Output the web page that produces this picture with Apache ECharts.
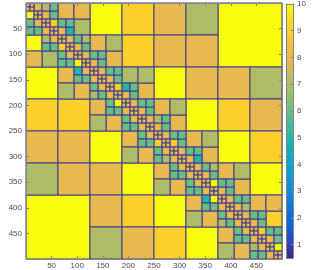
<!DOCTYPE html>
<html>
<head>
<meta charset="utf-8">
<script src="https://cdn.jsdelivr.net/npm/echarts@6/dist/echarts.min.js"></script>
<style>
html,body{margin:0;padding:0;background:#ffffff;}
#chart{width:314px;height:270px;}
</style>
</head>
<body>
<div id="chart"></div>
<script>
// ---------------- data ----------------
const matrixSize = 500;
const axisTickValues = [50, 100, 150, 200, 250, 300, 350, 400, 450];
const colorbarTickValues = [1, 2, 3, 4, 5, 6, 7, 8, 9, 10];
const colorLimits = [0.5, 10];

// level-2 low-rank blocks: [rowCluster, colCluster, rank]
const level2Blocks = [[0, 3, 10], [3, 0, 10]];

// level-3 low-rank blocks: [rowCluster, colCluster, rank]
const level3Blocks = [
  [0, 2, 10], [0, 3, 9], [0, 4, 8], [0, 5, 7], [1, 3, 9], [1, 4, 8], [1, 5, 8],
  [2, 4, 10], [2, 5, 8], [2, 6, 8], [2, 7, 7], [3, 5, 10], [3, 6, 9], [3, 7, 8],
  [4, 6, 10], [4, 7, 9], [5, 7, 10],
  [2, 0, 10], [3, 0, 9], [4, 0, 8], [5, 0, 7], [3, 1, 9], [4, 1, 8], [5, 1, 8],
  [4, 2, 10], [5, 2, 8], [6, 2, 8], [7, 2, 7], [5, 3, 10], [6, 3, 9], [7, 3, 8],
  [6, 4, 10], [7, 4, 9], [7, 5, 10]
];

// level-4 ranks along block diagonals (offset +2, +3 and -2, -3)
const level4Upper2 = [8, 7, 8, 8, 7, 8, 8, 8, 8, 8, 8, 8, 8, 9];
const level4Upper3 = [8, 7, 7, 7, 7, 7, 8];
const level4Lower2 = [10, 7, 8, 8, 8, 8, 8, 8, 8, 8, 8, 8, 8, 8];
const level4Lower3 = [8, 7, 7, 7, 7, 7, 7];

// level-5 ranks along block diagonals (offset +-1, +-2, +-3)
const level5Upper1 = [8, 8, 9, 8, 8, 8, 8, 8, 8, 8, 9, 8, 8, 8, 8, 8, 8, 9, 8, 8, 8, 8, 10, 8, 8, 8, 8, 8, 9, 8, 10];
const level5Lower1 = [10, 8, 8, 8, 9, 8, 10, 8, 8, 8, 8, 10, 8, 8, 8, 8, 9, 8, 8, 8, 8, 8, 8, 10, 8, 8, 8, 8, 8, 8, 8];
const level5Upper2 = [7, 6, 6, 5, 6, 6, 6, 6, 6, 6, 5, 6, 6, 6, 7, 6, 6, 6, 6, 5, 6, 6, 6, 6, 6, 7, 6, 6, 6, 6];
const level5Lower2 = [6, 6, 7, 6, 6, 6, 5, 6, 6, 6, 6, 6, 6, 6, 6, 6, 6, 7, 6, 6, 6, 6, 5, 6, 6, 6, 6, 6, 7, 6];
const level5Upper3 = [6, 6, 7, 6, 6, 6, 6, 6, 6, 6, 7, 6, 6, 6, 6];
const level5Lower3 = [6, 6, 6, 6, 7, 6, 6, 6, 6, 6, 6, 6, 7, 6, 6];

// dense diagonal leaves (level 6): rank of each small dense block
const level6DenseRank = 8;

// parula colour map: [position 0..63, r, g, b]
const parulaStops = [
  [0, 53, 42, 135], [4, 50, 67, 186], [8, 3, 99, 225], [12, 13, 117, 220], [16, 20, 133, 212],
  [20, 9, 152, 209], [24, 6, 167, 198], [28, 21, 177, 180], [32, 56, 185, 158], [36, 101, 190, 134],
  [40, 146, 191, 115], [44, 183, 189, 100], [48, 217, 186, 86], [50, 233, 185, 78], [52, 248, 187, 68],
  [54, 255, 195, 55], [56, 252, 206, 46], [58, 247, 216, 38], [60, 245, 228, 29], [63, 249, 251, 14]
];

// ---------------- build blocks ----------------
const blocks = [];
function span(level, k) {
  const s = matrixSize / Math.pow(2, level);
  return [k * s, (k + 1) * s];
}
function addBlock(level, r, c, v) {
  const rs = span(level, r), cs = span(level, c);
  blocks.push([cs[0], cs[1], rs[0], rs[1], v]);
}
level2Blocks.forEach(b => addBlock(2, b[0], b[1], b[2]));
level3Blocks.forEach(b => addBlock(3, b[0], b[1], b[2]));
level4Upper2.forEach((v, i) => addBlock(4, i, i + 2, v));
level4Lower2.forEach((v, i) => addBlock(4, i + 2, i, v));
level4Upper3.forEach((v, j) => addBlock(4, 2 * j, 2 * j + 3, v));
level4Lower3.forEach((v, j) => addBlock(4, 2 * j + 3, 2 * j, v));
level5Upper1.forEach((v, i) => addBlock(5, i, i + 1, v));
level5Lower1.forEach((v, i) => addBlock(5, i + 1, i, v));
level5Upper2.forEach((v, i) => addBlock(5, i, i + 2, v));
level5Lower2.forEach((v, i) => addBlock(5, i + 2, i, v));
level5Upper3.forEach((v, j) => addBlock(5, 2 * j, 2 * j + 3, v));
level5Lower3.forEach((v, j) => addBlock(5, 2 * j + 3, 2 * j, v));
for (let i = 0; i < 32; i++) {
  addBlock(6, 2 * i, 2 * i, level6DenseRank);
  addBlock(6, 2 * i, 2 * i + 1, level6DenseRank);
  addBlock(6, 2 * i + 1, 2 * i, level6DenseRank);
  addBlock(6, 2 * i + 1, 2 * i + 1, level6DenseRank);
}

function parula(v) {
  let t = (v - colorLimits[0]) / (colorLimits[1] - colorLimits[0]);
  t = Math.max(0, Math.min(1, t)) * 63;
  let k = 0;
  while (k < parulaStops.length - 2 && parulaStops[k + 1][0] < t) k++;
  const a = parulaStops[k], b = parulaStops[k + 1];
  const f = Math.max(0, Math.min(1, (t - a[0]) / (b[0] - a[0])));
  const c = [1, 2, 3].map(j => Math.round(a[j] + (b[j] - a[j]) * f));
  return 'rgb(' + c.join(',') + ')';
}

// ---------------- chart ----------------
const axisColor = '#858585';
const textColor = '#4a4a4a';
const fontFamily = '"Liberation Sans", Arial, Helvetica, sans-serif';
const fontSize = 8;

const chart = echarts.init(document.getElementById('chart'), null, { renderer: 'canvas' });

function mainAxis(position, showLabel, inverse, margin) {
  return {
    type: 'value', gridIndex: 0, position: position, min: 0, max: matrixSize, interval: 50, inverse: !!inverse,
    z: 10,
    axisLine: { show: true, onZero: false, lineStyle: { color: axisColor, width: 1 } },
    axisTick: { show: true, inside: true, length: 3, lineStyle: { color: axisColor, width: 1 } },
    axisLabel: {
      show: showLabel, showMinLabel: false, showMaxLabel: false,
      color: textColor, fontSize: fontSize, fontFamily: fontFamily, margin: margin || 3
    },
    splitLine: { show: false }
  };
}

const option = {
  animation: false,
  backgroundColor: '#ffffff',
  grid: [
    { left: 26, right: 32, top: 3, bottom: 9, containLabel: false },
    { left: 286, width: 7, top: 3, bottom: 12, containLabel: false }
  ],
  xAxis: [
    mainAxis('bottom', true, false, 3),
    mainAxis('top', false, false),
    { type: 'value', gridIndex: 1, min: 0, max: 1, position: 'bottom', z: 10,
      axisLine: { show: true, onZero: false, lineStyle: { color: axisColor, width: 1 } },
      axisTick: { show: false }, axisLabel: { show: false }, splitLine: { show: false } },
    { type: 'value', gridIndex: 1, min: 0, max: 1, position: 'top', z: 10,
      axisLine: { show: true, onZero: false, lineStyle: { color: axisColor, width: 1 } },
      axisTick: { show: false }, axisLabel: { show: false }, splitLine: { show: false } }
  ],
  yAxis: [
    mainAxis('left', true, true, 4),
    mainAxis('right', false, true),
    { type: 'value', gridIndex: 1, min: colorLimits[0], max: colorLimits[1], position: 'right', z: 10,
      axisLine: { show: true, onZero: false, lineStyle: { color: axisColor, width: 1 } },
      axisTick: { show: true, inside: true, length: 2, customValues: colorbarTickValues, lineStyle: { color: axisColor } },
      axisLabel: { show: true, customValues: colorbarTickValues, color: textColor, fontSize: fontSize, fontFamily: fontFamily, margin: 4 },
      splitLine: { show: false } },
    { type: 'value', gridIndex: 1, min: colorLimits[0], max: colorLimits[1], position: 'left', z: 10,
      axisLine: { show: true, onZero: false, lineStyle: { color: axisColor, width: 1 } },
      axisTick: { show: false }, axisLabel: { show: false }, splitLine: { show: false } }
  ],
  series: [
    {
      type: 'custom',
      xAxisIndex: 0, yAxisIndex: 0,
      data: blocks,
      encode: { x: [0, 1], y: [2, 3] },
      renderItem: function (params, api) {
        const p0 = api.coord([api.value(0), api.value(2)]);
        const p1 = api.coord([api.value(1), api.value(3)]);
        return {
          type: 'rect',
          shape: {
            x: Math.min(p0[0], p1[0]), y: Math.min(p0[1], p1[1]),
            width: Math.abs(p1[0] - p0[0]), height: Math.abs(p1[1] - p0[1])
          },
          style: { fill: parula(api.value(4)), stroke: '#3d3b8e', lineWidth: 1 }
        };
      }
    },
    {
      type: 'custom',
      xAxisIndex: 2, yAxisIndex: 2,
      data: [[0, 1, colorLimits[0], colorLimits[1]]],
      renderItem: function (params, api) {
        const p0 = api.coord([api.value(0), api.value(2)]);
        const p1 = api.coord([api.value(1), api.value(3)]);
        const stops = parulaStops.map(s => ({ offset: s[0] / 63, color: 'rgb(' + s[1] + ',' + s[2] + ',' + s[3] + ')' }));
        return {
          type: 'rect',
          shape: {
            x: Math.min(p0[0], p1[0]), y: Math.min(p0[1], p1[1]),
            width: Math.abs(p1[0] - p0[0]), height: Math.abs(p1[1] - p0[1])
          },
          style: { fill: new echarts.graphic.LinearGradient(0, 1, 0, 0, stops) }
        };
      }
    }
  ]
};
chart.setOption(option);
</script>
</body>
</html>
